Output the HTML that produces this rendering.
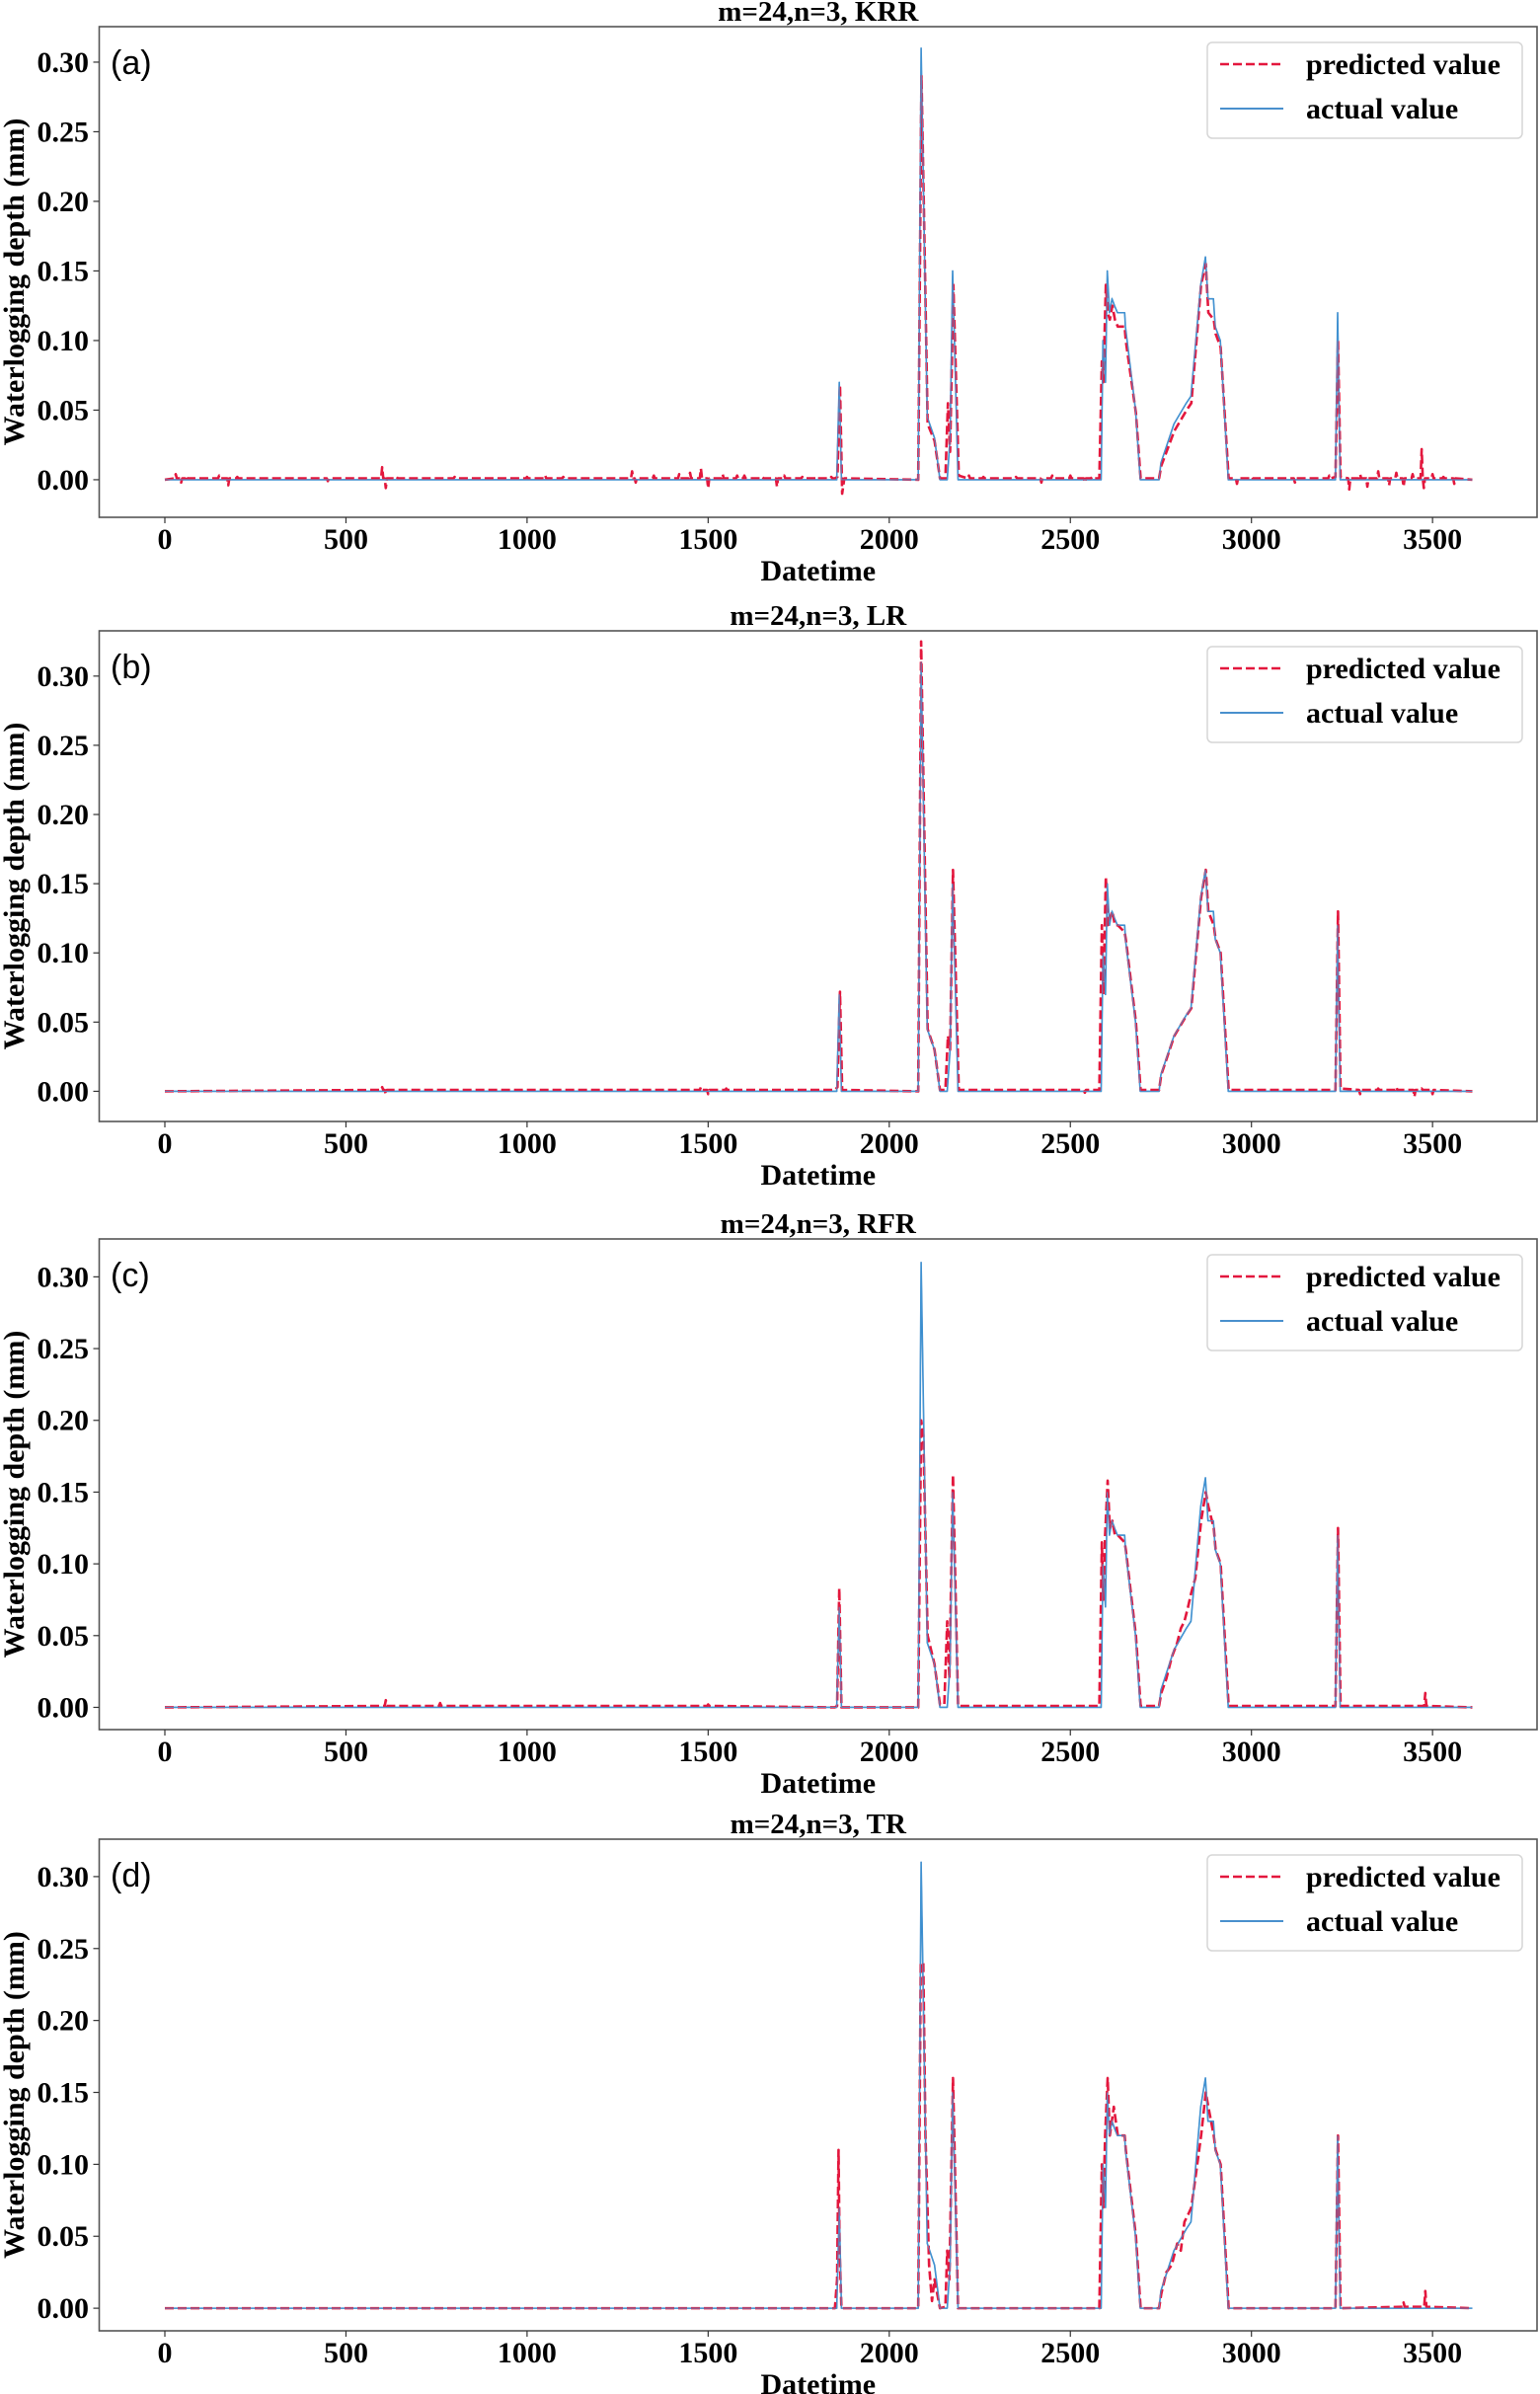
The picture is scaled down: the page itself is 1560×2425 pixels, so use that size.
<!DOCTYPE html>
<html><head><meta charset="utf-8"><style>
html,body{margin:0;padding:0;background:#fff;}
svg{display:block;}
</style></head><body>
<svg id="fig" width="1560" height="2425" viewBox="0 0 1560 2425" xmlns="http://www.w3.org/2000/svg"></svg>
<script>
const xTicks = [0,500,1000,1500,2000,2500,3000,3500];
const yTicks = [0,0.05,0.10,0.15,0.20,0.25,0.30];
const yTickLabels = ["0.00","0.05","0.10","0.15","0.20","0.25","0.30"];
const panelTitles = ["m=24,n=3, KRR","m=24,n=3, LR","m=24,n=3, RFR","m=24,n=3, TR"];
const panelLetters = ["(a)","(b)","(c)","(d)"];

// actual series (same in all panels)
const actT = [0,1855,1862,1868,2080,2088,2095,2105,2125,2140,2160,2168,2175,2190,2585,2590,2597,2602,2608,2615,2622,2630,2650,2652,2680,2693,2745,2750,2786,2820,2833,2860,2873,2880,2895,2900,2914,2936,3232,3238,3245,3610];
const actV = [0,0,0.07,0,0,0.31,0.2,0.045,0.03,0,0,0.03,0.15,0,0,0.10,0.07,0.15,0.12,0.13,0.125,0.12,0.12,0.11,0.05,0,0,0.012,0.04,0.055,0.06,0.14,0.16,0.13,0.13,0.11,0.10,0,0,0.12,0,0];

// KRR predicted (main shape + small spikes)
const predT_KRR = [0,1850,1857,1864,1870,1876,2080,2089,2096,2106,2125,2140,2155,2162,2168,2177,2192,2580,2587,2591,2598,2603,2609,2616,2623,2631,2650,2653,2681,2694,2745,2751,2787,2821,2834,2861,2874,2881,2896,2901,2915,2937,3232,3239,3246,3610];
const predV_KRR = [0,0.001,0.002,0.068,-0.01,0.001,0,0.29,0.19,0.04,0.028,0.001,0.001,0.055,0.02,0.14,0.003,0.001,0.085,0.07,0.14,0.12,0.115,0.125,0.115,0.11,0.11,0.1,0.048,0.001,0.001,0.01,0.035,0.05,0.055,0.14,0.155,0.12,0.115,0.105,0.095,0.001,0.002,0.1,0.002,0];
const spikeT_KRR = [30,45,60,100,150,175,200,260,380,450,560,600,610,640,700,800,900,1000,1050,1100,1200,1290,1300,1350,1420,1450,1480,1500,1540,1580,1600,1650,1690,1710,1760,1800,1840,2220,2260,2300,2350,2420,2450,2500,2540,2560,2960,3000,3050,3120,3180,3215,3270,3300,3320,3350,3380,3400,3420,3445,3470,3476,3500,3530,3560];
const spikeV_KRR = [0.004,-0.002,0.003,0.001,0.003,-0.004,0.002,0.001,0.001,-0.001,0.001,0.009,-0.006,0.002,0.001,0.002,0.001,0.002,0.003,0.002,0.001,0.006,-0.002,0.003,0.004,0.005,0.008,-0.006,0.004,0.003,0.003,0.002,-0.005,0.003,0.002,0.002,0.002,0.003,0.002,0.001,0.002,-0.002,0.003,0.003,-0.002,0.002,-0.003,0.002,0.001,-0.002,0.001,0.003,-0.007,0.004,-0.005,0.006,-0.004,0.005,-0.005,0.004,0.022,-0.006,0.004,0.002,-0.003];

// LR predicted
const predT_LR = [0,1850,1857,1864,1870,2080,2088,2096,2106,2125,2140,2155,2162,2168,2176,2192,2580,2587,2591,2598,2603,2609,2616,2623,2631,2650,2653,2681,2694,2745,2751,2787,2821,2834,2861,2874,2881,2896,2901,2915,2937,3232,3239,3246,3610];
const predV_LR = [0,0.001,0.003,0.072,0.001,0,0.325,0.2,0.045,0.03,0.001,0.001,0.04,0.03,0.16,0.001,0.001,0.12,0.07,0.155,0.12,0.125,0.13,0.12,0.12,0.115,0.11,0.05,0.001,0.001,0.012,0.04,0.055,0.06,0.14,0.16,0.13,0.12,0.11,0.1,0.001,0.001,0.13,0.002,0];
const spikeT_LR = [600,610,1480,1500,1550,2260,2400,2540,3300,3350,3400,3450,3470,3500];
const spikeV_LR = [0.003,-0.002,0.003,-0.002,0.002,0.001,0.001,-0.001,-0.002,0.002,0.003,-0.004,0.002,-0.002];

// RFR predicted
const predT_RFR = [0,1850,1856,1862,1868,2080,2088,2094,2106,2125,2140,2152,2160,2166,2176,2190,2580,2587,2591,2596,2603,2609,2616,2623,2631,2650,2653,2681,2694,2745,2751,2765,2780,2795,2805,2815,2825,2834,2845,2861,2874,2881,2896,2901,2915,2937,3232,3239,3246,3610];
const predV_RFR = [0,0,0.001,0.083,0,0,0.2,0.19,0.05,0.03,0.002,0.002,0.06,0.02,0.162,0.001,0.001,0.115,0.075,0.12,0.158,0.125,0.13,0.12,0.12,0.115,0.11,0.05,0.001,0.001,0.01,0.02,0.035,0.045,0.055,0.06,0.07,0.08,0.09,0.13,0.15,0.14,0.125,0.11,0.1,0.001,0.001,0.125,0.001,0];
const spikeT_RFR = [610,760,1500,3480];
const spikeV_RFR = [0.005,0.003,0.002,0.01];

// TR predicted
const predT_TR = [0,1850,1856,1860,1863,1868,2080,2087,2094,2100,2110,2118,2125,2140,2155,2160,2166,2176,2190,2580,2587,2591,2596,2603,2609,2620,2631,2650,2653,2681,2694,2745,2751,2765,2780,2795,2805,2815,2825,2834,2845,2861,2874,2881,2896,2901,2915,2937,3232,3239,3246,3610];
const predV_TR = [0,0,0.02,0.11,0.04,0,0,0.24,0.24,0.12,0.03,0.005,0.02,0,0.001,0.04,0.02,0.16,0,0,0.1,0.07,0.12,0.16,0.12,0.14,0.12,0.12,0.11,0.05,0,0,0.01,0.025,0.03,0.045,0.04,0.06,0.065,0.07,0.09,0.12,0.15,0.14,0.12,0.11,0.1,0,0,0.12,0,0];
const spikeT_TR = [3420,3480];
const spikeV_TR = [0.004,0.012];

const predTs = [predT_KRR, predT_LR, predT_RFR, predT_TR];
const predVs = [predV_KRR, predV_LR, predV_RFR, predV_TR];
const spikeTs = [spikeT_KRR, spikeT_LR, spikeT_RFR, spikeT_TR];
const spikeVs = [spikeV_KRR, spikeV_LR, spikeV_RFR, spikeV_TR];

// layout
const L = 100.5, R = 1557;
const xScale = v => 167 + v * 0.3669;
const tops = [27, 639, 1255, 1863];
const bottoms = [524, 1136, 1752, 2361];
const ymins = [-0.027, -0.0218, -0.0155, -0.0157];
const ymaxs = [0.3255, 0.3327, 0.3264, 0.326];

const NS = "http://www.w3.org/2000/svg";
const svg = document.getElementById('fig');
function mk(tag, attrs, parent){
  const e = document.createElementNS(NS, tag);
  for (const k in attrs) e.setAttribute(k, attrs[k]);
  parent.appendChild(e);
  return e;
}
const serif = '"Liberation Serif", serif';

function predPoints(p){
  const pts = [];
  const t = predTs[p], v = predVs[p];
  for (let i = 0; i < Math.min(t.length, v.length); i++) pts.push([t[i], v[i]]);
  const st = spikeTs[p], sv = spikeVs[p];
  for (let i = 0; i < Math.min(st.length, sv.length); i++) {
    pts.push([st[i] - 3, 0.001]);
    pts.push([st[i], sv[i]]);
    pts.push([st[i] + 3, 0.001]);
  }
  pts.sort((a, b) => a[0] - b[0]);
  return pts;
}

for (let p = 0; p < 4; p++) {
  const top = tops[p], bot = bottoms[p];
  const yScale = v => bot - (v - ymins[p]) / (ymaxs[p] - ymins[p]) * (bot - top);
  const g = mk('g', {}, svg);
  
  

  const title = mk('text', {x: (L+R)/2, y: top - 6, 'text-anchor': 'middle', 'font-family': serif, 'font-weight': 'bold', 'font-size': 29}, g);
  title.textContent = panelTitles[p];
  
  

  const cp = mk('clipPath', {id: 'clip' + p}, g);
  mk('rect', {x: L, y: top, width: R - L, height: bot - top}, cp);

  const lines = mk('g', {'clip-path': 'url(#clip' + p + ')'}, g);
  let d = '';
  for (let i = 0; i < Math.min(actT.length, actV.length); i++) d += (i ? 'L' : 'M') + xScale(actT[i]).toFixed(2) + ',' + yScale(actV[i]).toFixed(2);
  const act = mk('path', {d: d, fill: 'none', stroke: '#2f80c6', 'stroke-width': 1.6, 'stroke-linejoin': 'round'}, lines);
  
  
  const pts = predPoints(p);
  d = '';
  pts.forEach((q, i) => { d += (i ? 'L' : 'M') + xScale(q[0]).toFixed(2) + ',' + yScale(q[1]).toFixed(2); });
  const pr = mk('path', {d: d, fill: 'none', stroke: '#e3173d', 'stroke-width': 2.6, 'stroke-dasharray': '9,4', 'stroke-linejoin': 'round'}, lines);
  
  
  const act2 = mk('path', {d: act.getAttribute('d'), fill: 'none', stroke: '#4a9ad6', 'stroke-width': 1.1, opacity: 0.8}, lines);
  
  

  const fr = mk('rect', {x: L, y: top, width: R - L, height: bot - top, fill: 'none', stroke: '#555', 'stroke-width': 1.6}, g);
  
  

  xTicks.forEach(v => {
    const x = xScale(v);
    mk('line', {x1: x, y1: bot, x2: x, y2: bot + 6, stroke: '#333', 'stroke-width': 1.2}, g);
    const t = mk('text', {x: x, y: bot + 32, 'text-anchor': 'middle', 'font-family': serif, 'font-weight': 'bold', 'font-size': 30}, g);
    t.textContent = String(v);
    
    
  });
  const xl = mk('text', {x: (L+R)/2, y: bot + 64, 'text-anchor': 'middle', 'font-family': serif, 'font-weight': 'bold', 'font-size': 30}, g);
  xl.textContent = 'Datetime';
  
  

  yTicks.forEach((v, i) => {
    const y = yScale(v);
    mk('line', {x1: L - 6, y1: y, x2: L, y2: y, stroke: '#333', 'stroke-width': 1.2}, g);
    const t = mk('text', {x: 90, y: y + 10, 'text-anchor': 'end', 'font-family': serif, 'font-weight': 'bold', 'font-size': 30}, g);
    t.textContent = yTickLabels[i];
    
    
  });
  const yc = (top + bot) / 2 + 10;
  const yl = mk('text', {x: 0, y: 0, transform: 'translate(24,' + yc + ') rotate(-90)', 'text-anchor': 'middle', 'font-family': serif, 'font-weight': 'bold', 'font-size': 30}, g);
  yl.textContent = 'Waterlogging depth (mm)';
  
  

  const pl = mk('text', {x: 112, y: top + 48, 'font-family': '"Liberation Sans", sans-serif', 'font-size': 34}, g);
  pl.textContent = panelLetters[p];
  
  

  const lg = mk('g', {}, g);
  
  
  mk('rect', {x: 1223, y: top + 16, width: 319, height: 97, rx: 5, fill: '#fff', stroke: '#d6d6d6', 'stroke-width': 1.5}, lg);
  mk('line', {x1: 1236, y1: top + 38, x2: 1300, y2: top + 38, stroke: '#e3173d', 'stroke-width': 2.6, 'stroke-dasharray': '9,4'}, lg);
  mk('line', {x1: 1236, y1: top + 83, x2: 1300, y2: top + 83, stroke: '#2f80c6', 'stroke-width': 1.8}, lg);
  const l1 = mk('text', {x: 1323, y: top + 48, 'font-family': serif, 'font-weight': 'bold', 'font-size': 30}, lg);
  l1.textContent = 'predicted value';
  
  
  const l2 = mk('text', {x: 1323, y: top + 93, 'font-family': serif, 'font-weight': 'bold', 'font-size': 30}, lg);
  l2.textContent = 'actual value';
  
  
}
</script>
</body></html>
